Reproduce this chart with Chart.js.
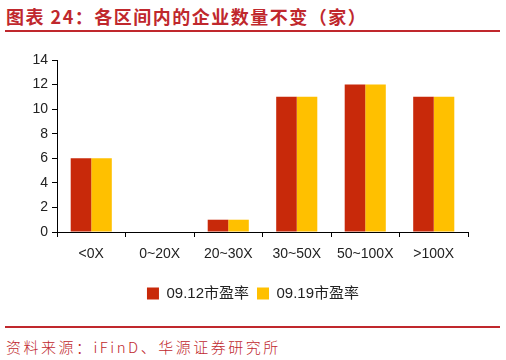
<!DOCTYPE html>
<html><head><meta charset="utf-8">
<script src="https://cdn.jsdelivr.net/npm/chart.js@4"></script>
<style>
html,body{margin:0;padding:0;background:#fff;width:506px;height:360px;overflow:hidden;}
#title{position:absolute;left:6px;top:3px;font-family:"Noto Sans CJK SC",sans-serif;font-weight:bold;font-size:18px;color:#c0282d;letter-spacing:1.5px;}
#line1{position:absolute;left:5px;top:30px;width:495px;height:2px;background:#c0282d;}
#line2{position:absolute;left:5px;top:326px;width:495px;height:2px;background:#c0282d;}
#src{position:absolute;left:6px;top:336px;font-family:"Noto Sans CJK SC",sans-serif;font-weight:300;font-size:15px;color:#c0282d;letter-spacing:2.5px;}
#wrap{position:absolute;left:0;top:40px;width:506px;height:275px;}
</style></head>
<body>
<div id="title">图表 24：各区间内的企业数量不变（家）</div>
<div id="line1"></div>
<div id="wrap"><canvas id="c"></canvas></div>
<div id="line2"></div>
<div id="src">资料来源：iFinD、华源证券研究所</div>
<script>
const categories = ["<0X","0~20X","20~30X","30~50X","50~100X",">100X"];
const series1Name = "09.12市盈率";
const series1 = [6,0,1,11,12,11];
const series2Name = "09.19市盈率";
const series2 = [6,0,1,11,12,11];
const yTicks = [0,2,4,6,8,10,12,14];

const font = {family:"'Liberation Sans', Arial, sans-serif", size:14};
new Chart(document.getElementById('c'), {
  type:'bar',
  data:{labels:categories,datasets:[
    {label:series1Name,data:series1,backgroundColor:'#c8290a',categoryPercentage:0.6,barPercentage:1.0},
    {label:series2Name,data:series2,backgroundColor:'#ffc000',categoryPercentage:0.6,barPercentage:1.0}
  ]},
  options:{
    responsive:true,maintainAspectRatio:false,animation:false,
    layout:{padding:{top:20,right:0,bottom:4,left:0}},
    plugins:{
      legend:{position:'bottom',labels:{boxWidth:12,boxHeight:12,padding:8,color:'#222',font:{family:"'Liberation Sans','Noto Sans CJK SC',sans-serif",size:15}}},
      tooltip:{enabled:false}
    },
    scales:{
      x:{offset:true,
        grid:{offset:true,drawOnChartArea:false,drawTicks:true,tickLength:5,color:'#000',lineWidth:1},
        border:{color:'#000',width:1},
        ticks:{color:'#222',font:font,padding:9},
        afterFit:(s)=>{s.height=46;}
      },
      y:{min:0,max:14,
        afterBuildTicks:(s)=>{s.ticks=yTicks.map(v=>({value:v}));},
        grid:{drawOnChartArea:false,drawTicks:true,tickLength:5,color:'#000',lineWidth:1},
        border:{color:'#000',width:1},
        ticks:{color:'#222',font:font,padding:4},
        afterFit:(s)=>{s.width=57;}
      },
      yPad:{position:'right',min:0,max:14,
        grid:{display:false},border:{display:false},ticks:{display:false},
        afterFit:(s)=>{s.width=38;}
      }
    }
  }
});
</script>
</body></html>
